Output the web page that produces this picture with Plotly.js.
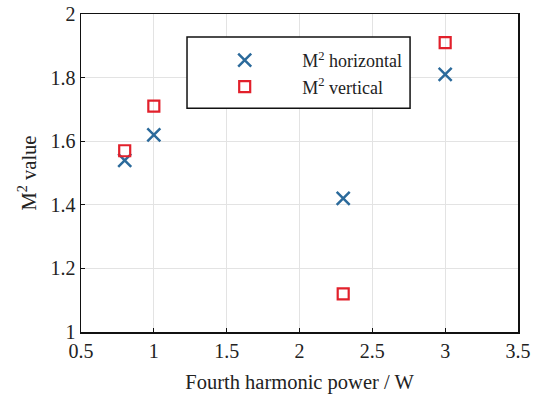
<!DOCTYPE html>
<html><head><meta charset="utf-8">
<script src="https://cdn.plot.ly/plotly-3.0.1.min.js"></script>
<style>body{margin:0}#c{width:533px;height:402px}</style>
</head><body><div id="c"></div>
<script>
const power = [0.8, 1, 2.3, 3];
const m2Horizontal = [1.54, 1.62, 1.42, 1.81];
const m2Vertical = [1.57, 1.71, 1.12, 1.91];
const xTicks = [0.5, 1, 1.5, 2, 2.5, 3, 3.5];
const yTicks = [1, 1.2, 1.4, 1.6, 1.8, 2];

const fontFam = 'Liberation Serif, serif';
const traces = [
  {x: power, y: m2Horizontal, mode: 'markers', name: 'M<sup>2</sup> horizontal', legendgroup: 'a',
   marker: {symbol: 'x-thin-open', size: 13, color: '#2b6a9b', line: {width: 2.5, color: '#2b6a9b'}}},
  {x: power, y: m2Vertical, mode: 'markers', name: 'M<sup>2</sup> vertical', legendgroup: 'b',
   marker: {symbol: 'square-open', size: 11, color: '#e2202b', line: {width: 2.2, color: '#e2202b'}}}
];
const axisCommon = {showline: true, mirror: true, linecolor: '#111', linewidth: 1.5,
  showgrid: true, gridcolor: '#e3e3e3', gridwidth: 1, zeroline: false,
  ticks: 'inside', ticklen: 4, tickcolor: '#111', tickfont: {family: fontFam, size: 20, color: '#222'}};
const layout = {
  width: 533, height: 402,
  margin: {l: 81, r: 15, t: 14, b: 70},
  paper_bgcolor: '#fff', plot_bgcolor: '#fff',
  font: {family: fontFam, color: '#222'},
  showlegend: true,
  xaxis: Object.assign({}, axisCommon, {range: [0.5, 3.5], tickvals: xTicks, ticktext: xTicks.map(String),
    title: {text: 'Fourth harmonic power / W', font: {family: fontFam, size: 20.5, color: '#222'}, standoff: 14}}),
  yaxis: Object.assign({}, axisCommon, {range: [1, 2], tickvals: yTicks, ticktext: yTicks.map(String),
    title: {text: 'M<sup>2</sup> value', font: {family: fontFam, size: 20.5, color: '#222'}, standoff: 8}}),
  shapes: [{type: 'rect', xref: 'paper', yref: 'paper', x0: 0.2426, x1: 0.753, y0: 0.704, y1: 0.928,
    fillcolor: '#fff', line: {color: '#111', width: 1.5}, layer: 'above'}],
  legend: {x: 0.243, y: 0.912, xanchor: 'left', yanchor: 'top', bgcolor: 'rgba(0,0,0,0)',
    borderwidth: 0, font: {family: fontFam, size: 18, color: '#222'},
    itemwidth: 105, tracegroupgap: 0}
};
Plotly.newPlot('c', traces, layout, {displayModeBar: false, staticPlot: true});
</script></body></html>
